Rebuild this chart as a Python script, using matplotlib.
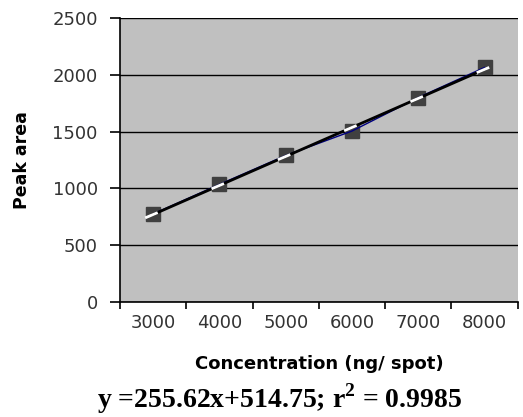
import matplotlib
matplotlib.use('Agg')
import matplotlib.pyplot as plt
import numpy as np

# calibration data
concentrations = ['3000', '4000', '5000', '6000', '7000', '8000']
peak_areas = [775, 1035, 1290, 1505, 1800, 2065]
slope = 255.62
intercept = 514.75
y_ticks = [0, 500, 1000, 1500, 2000, 2500]

plt.rcParams['mathtext.fontset'] = 'custom'
plt.rcParams['mathtext.rm'] = 'Liberation Serif:bold'
plt.rcParams['mathtext.bf'] = 'Liberation Serif:bold'

fig = plt.figure(figsize=(5.23, 4.17), dpi=100)
ax = fig.add_axes([0.2294, 0.2758, 0.7606, 0.681])
ax.set_facecolor('#c0c0c0')

pos = np.arange(1, len(concentrations) + 1)
fit = slope * pos + intercept

ax.plot(pos, peak_areas, color='#000080', lw=1, zorder=3)
ax.plot(pos, fit, color='black', lw=2, zorder=4)
ax.plot(pos, peak_areas, ls='none', marker='s', ms=10, mfc='#404040',
        mec='#404040', zorder=2)
# white strokes through markers
for p, v in zip(pos, fit):
    ax.plot([p - 0.1, p + 0.05], [v - 25, v + 12], color='white', lw=2, zorder=5)

ax.set_xlim(0.5, len(concentrations) + 0.5)
ax.set_ylim(0, 2500)
ax.set_yticks(y_ticks)
ax.set_xticks(np.arange(0.5, len(concentrations) + 1, 1))
ax.set_xticklabels([])
ax.set_xticks(pos, minor=True)
ax.set_xticklabels(concentrations, minor=True)
ax.tick_params(axis='x', which='minor', length=0, pad=9)
ax.tick_params(axis='x', which='major', length=5, width=1.2, direction='out')
ax.tick_params(axis='y', length=7, width=1.2, direction='out', pad=9)
for lab in ax.get_xticklabels(minor=True) + ax.get_yticklabels():
    lab.set_fontsize(13)
    lab.set_color('#333333')

ax.grid(axis='y', color='black', lw=1)
ax.set_axisbelow(True)
for side in ['top', 'right']:
    ax.spines[side].set_visible(False)
ax.spines['left'].set_linewidth(1.2)
ax.spines['bottom'].set_linewidth(1.2)

ax.set_ylabel('Peak area', fontsize=12.5, fontweight='bold', labelpad=15)
ax.set_xlabel('Concentration (ng/ spot)', fontsize=13, fontweight='bold',
              labelpad=16)
fig.text(0.535, 0.045, r'y =255.62x+514.75; r$^{\mathbf{2}}$ = 0.9985',
         ha='center', va='center', fontsize=20, fontweight='bold',
         family='Liberation Serif')

fig.savefig('out.png', dpi=100)
